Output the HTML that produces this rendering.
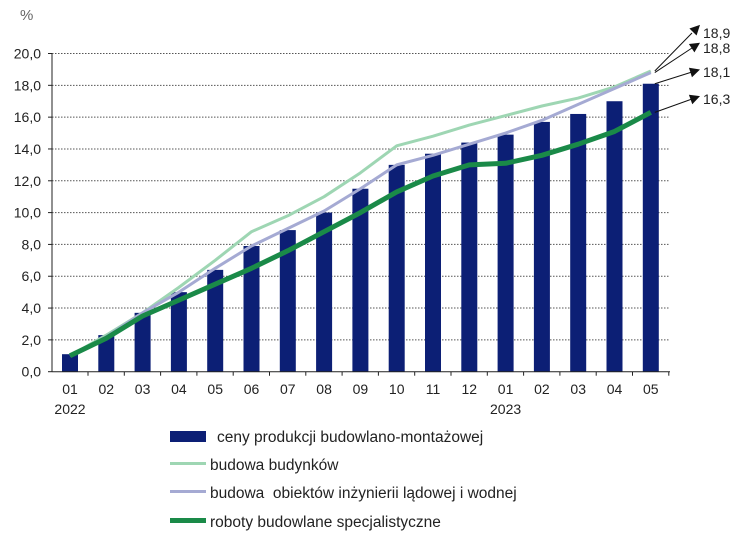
<!DOCTYPE html>
<html><head><meta charset="utf-8"><style>
body{margin:0;background:#fff;font-family:"Liberation Sans",sans-serif;}
svg text{font-family:"Liberation Sans",sans-serif;fill:#222;}
</style></head><body>
<svg width="750" height="549">
<g id="grid"></g><g id="bars"></g><g id="lines"></g><g id="ann"></g><g id="axes"></g>
<text x="20" y="20" font-size="15" fill="#666" style="fill:#666">%</text>
<g font-size="15.5">
<rect x="170" y="431" width="36" height="11" fill="#0c1f75"/>
<text x="217" y="442">ceny produkcji budowlano-montażowej</text>
<rect x="170" y="462" width="36" height="3" fill="#9ed6b3"/>
<text x="210" y="470">budowa budynków</text>
<rect x="170" y="490" width="36" height="3" fill="#a5aad3"/>
<text x="210" y="498" xml:space="preserve">budowa  obiektów inżynierii lądowej i wodnej</text>
<rect x="170" y="518" width="36" height="5" fill="#1a8a48"/>
<text x="210" y="527">roboty budowlane specjalistyczne</text>
</g>
</svg>
<script>
const categories=["01","02","03","04","05","06","07","08","09","10","11","12","01","02","03","04","05"];
const yearLabels=["2022","","","","","","","","","","","","2023","","","","",""];
const ceny=[1.1,2.3,3.7,5.0,6.4,7.9,8.9,10.0,11.5,13.0,13.7,14.4,14.9,15.7,16.2,17.0,18.1];
const budynkow=[1.0,2.3,3.7,5.3,7.0,8.8,9.8,11.0,12.5,14.2,14.8,15.5,16.1,16.7,17.2,17.9,18.9];
const inzynierii=[1.0,2.2,3.7,5.0,6.5,7.9,9.0,10.1,11.5,13.0,13.6,14.3,15.0,15.8,16.8,17.8,18.8];
const roboty=[1.0,2.1,3.5,4.5,5.5,6.5,7.6,8.8,10.0,11.3,12.3,13.0,13.1,13.6,14.3,15.1,16.3];
const yTicks=[0,2,4,6,8,10,12,14,16,18,20];
const NS="http://www.w3.org/2000/svg";
const y=v=>371.7-v*15.91;
const x=i=>70+i*36.3;
function mk(t,a,p){const e=document.createElementNS(NS,t);for(const k in a)e.setAttribute(k,a[k]);document.getElementById(p).appendChild(e);return e;}
yTicks.forEach(v=>{
 if(v>0){const g=mk('line',{x1:52,x2:670,y1:y(v),y2:y(v),stroke:'#555','stroke-dasharray':'1.5,1.5','stroke-width':1},'grid');
 
 }
 const t=mk('text',{x:41,y:y(v)+5,'text-anchor':'end','font-size':14},'axes');t.textContent=v.toFixed(1).replace('.',',');
 
 
 mk('line',{x1:48,x2:52,y1:y(v),y2:y(v),stroke:'#222'},'axes');
});
mk('line',{x1:52,x2:52,y1:y(20),y2:y(0),stroke:'#222'},'axes');
mk('line',{x1:52,x2:670,y1:y(0),y2:y(0),stroke:'#222'},'axes');
categories.forEach((c,i)=>{
 const b=mk('rect',{x:x(i)-8,y:y(ceny[i]),width:16,height:y(0)-y(ceny[i]),fill:'#0c1f75'},'bars');
 
 
 mk('line',{x1:x(i)+18,x2:x(i)+18,y1:y(0),y2:y(0)+4,stroke:'#222'},'axes');
 const t=mk('text',{x:x(i),y:394,'text-anchor':'middle','font-size':14},'axes');t.textContent=c;
 
 
 if(yearLabels[i]){const yt=mk('text',{x:x(i),y:414,'text-anchor':'middle','font-size':14},'axes');yt.textContent=yearLabels[i];
 
 }
});
[[budynkow,'#9ed6b3',3,'line-budynkow'],[inzynierii,'#a5aad3',3,'line-inzynierii'],[roboty,'#1a8a48',5,'line-roboty']].forEach(([d,c,w,n])=>{
 const p=mk('polyline',{points:d.map((v,i)=>x(i)+','+y(v)).join(' '),fill:'none',stroke:c,'stroke-width':w,'stroke-linejoin':'round'},'lines');
 
 
});
const L=categories.length-1;
[[budynkow[L],33],[inzynierii[L],48],[ceny[L],72],[roboty[L],99]].forEach(([v,ty])=>{
 const sx=x(L)+4,sy=y(v);
 mk('line',{x1:sx,y1:sy,x2:692,y2:ty,stroke:'#111','stroke-width':1},'ann');
 const ang=Math.atan2(ty-sy,692-sx);
 const tip=[700,ty+ (ty-sy)/(692-sx)*8];
 mk('polygon',{points:`${tip[0]},${tip[1]} ${tip[0]-10*Math.cos(ang)-5*Math.sin(ang)},${tip[1]-10*Math.sin(ang)+5*Math.cos(ang)} ${tip[0]-10*Math.cos(ang)+5*Math.sin(ang)},${tip[1]-10*Math.sin(ang)-5*Math.cos(ang)}`,fill:'#111'},'ann');
 const t=mk('text',{x:703,y:ty+5,'font-size':14},'ann');t.textContent=v.toFixed(1).replace('.',',');
 
 
});
</script>
</body></html>
